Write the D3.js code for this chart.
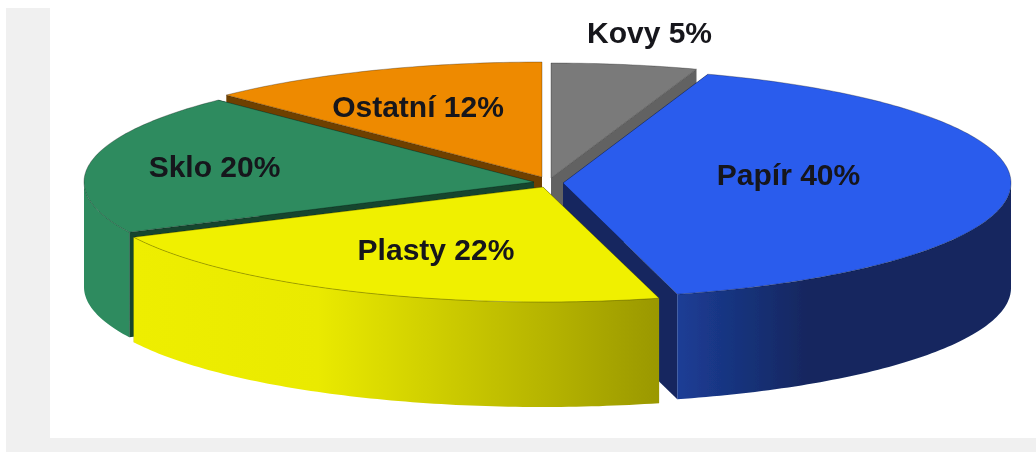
<!DOCTYPE html>
<html lang="cs">
<head>
<meta charset="utf-8">
<title>Kovy, Papír, Plasty, Sklo, Ostatní</title>
<script src="https://cdn.jsdelivr.net/npm/d3@7"></script>
<style>
  html, body { margin: 0; background: #fff; }
  svg { display: block; }
  text { font-family: "Liberation Sans", Arial, sans-serif; font-weight: 700; font-size: 30px; fill: #15151a; text-anchor: middle; }
</style>
</head>
<body>
<div id="chart"></div>
<script>
const categories = ['Kovy', 'Papír', 'Plasty', 'Sklo', 'Ostatní'];
const values = [5, 40, 22, 20, 12];

const width = 1036;
const height = 452;

// Style and layout, one entry per category
const topColors = ['#7a7a7a', '#2b5ced', '#f0f000', '#2e8b5f', '#ee8a00'];
const wallColors = ['#626262', '#13275f', '#9a9800', '#14452f', '#6e3f00'];
const frontStops = [
    null,
    [[0, '#1c3d96'], [0.39, '#13275f'], [1, '#13275f']],
    [[0, '#eeee00'], [0.35, '#eaea00'], [0.8, '#b4b200'], [1, '#9a9800']],
    [[0, '#2e8b5f'], [1, '#2e8b5f']],
    null
];
const apexX = [551, 563, 543, 534, 542];
const apexY = [178, 183, 187, 182, 177];
const radiiX = [450, 448, 455, 450, 450];
const labelX = [649.5, 788.5, 436, 214.5, 418];
const labelY = [32, 174, 249, 166, 106];
const drawOrder = [4, 0, 3, 1, 2];

const radiusY = 115;
const depth = 105;

const svg = d3.select('#chart')
    .append('svg')
    .attr('width', width)
    .attr('height', height);

// Grey frame behind the chart
svg.append('rect').attr('x', 6).attr('y', 8).attr('width', width - 6).attr('height', height - 8).attr('fill', '#f0f0f0');
svg.append('rect').attr('x', 50).attr('y', 0).attr('width', width - 50).attr('height', 438).attr('fill', '#fff');
svg.append('rect').attr('x', 6).attr('y', 0).attr('width', 44).attr('height', 8).attr('fill', '#fff');

const pie = d3.pie().sort(null).startAngle(0).endAngle(2 * Math.PI);
const arcs = pie(values);

const scaleY = d3.scaleLinear().domain([-1, 1]).range([-radiusY, radiusY]);
const line = d3.line();

// The source chart's perspective drags the front edge round a little
function viewAngle(a) {
    return a + 0.03 * Math.pow(Math.sin(a / 2), 8) + 0.042 * Math.pow(Math.cos(a / 2), 8) * Math.sin(a);
}

function rim(i, a, drop) {
    const v = viewAngle(a);
    return [apexX[i] + radiiX[i] * Math.sin(v), apexY[i] + scaleY(-Math.cos(v)) + drop];
}

function rimPoints(i, a0, a1, drop) {
    const n = Math.max(2, Math.ceil((a1 - a0) * 60));
    return d3.range(n + 1).map(k => rim(i, a0 + (a1 - a0) * k / n, drop));
}

const defs = svg.append('defs');

// Slight softening, the reference is an upscaled bitmap
defs.append('filter').attr('id', 'soft')
    .append('feGaussianBlur').attr('stdDeviation', 0.5);

const chart = svg.append('g').attr('filter', 'url(#soft)');

drawOrder.forEach(i => {
    const d = arcs[i];
    const g = chart.append('g').attr('class', `slice-${i}`);
    const apex = [apexX[i], apexY[i]];
    const apexLow = [apexX[i], apexY[i] + depth];

    // Flat cut walls
    [d.startAngle, d.endAngle].forEach(a => {
        g.append('path')
            .attr('d', line([apex, rim(i, a, 0), rim(i, a, depth), apexLow]) + 'Z')
            .attr('fill', wallColors[i]);
    });

    // Rounded outer wall, only the part facing the viewer
    const a0 = Math.max(d.startAngle, Math.PI / 2);
    const a1 = Math.min(d.endAngle, 3 * Math.PI / 2);
    if (frontStops[i] && a1 > a0) {
        const pts = rimPoints(i, a0, a1, 0).concat(rimPoints(i, a0, a1, depth).reverse());
        const ext = d3.extent(pts, p => p[0]);
        const grad = defs.append('linearGradient')
            .attr('id', `front-${i}`)
            .attr('gradientUnits', 'userSpaceOnUse')
            .attr('x1', ext[0])
            .attr('x2', ext[1]);
        frontStops[i].forEach(s => grad.append('stop').attr('offset', s[0]).attr('stop-color', s[1]));
        g.append('path')
            .attr('d', line(pts) + 'Z')
            .attr('fill', `url(#front-${i})`);
    }

    // Top face
    g.append('path')
        .attr('d', line([apex].concat(rimPoints(i, d.startAngle, d.endAngle, 0))) + 'Z')
        .attr('fill', topColors[i])
        .attr('stroke', '#000')
        .attr('stroke-opacity', 0.35)
        .attr('stroke-width', 0.8)
        .attr('stroke-linejoin', 'round');
});

chart.append('g').selectAll('text')
    .data(categories)
    .join('text')
    .attr('x', (c, i) => labelX[i])
    .attr('y', (c, i) => labelY[i])
    .attr('dy', '0.35em')
    .text((c, i) => `${c} ${values[i]}%`);
</script>
</body>
</html>
